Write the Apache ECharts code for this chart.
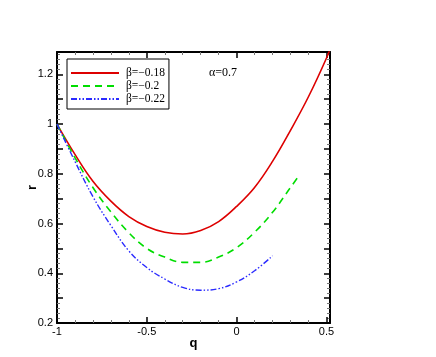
<!DOCTYPE html>
<html>
<head>
<meta charset="utf-8">
<script src="https://cdn.jsdelivr.net/npm/echarts@6/dist/echarts.min.js"></script>
<style>
  html, body { margin: 0; padding: 0; background: #fff; }
  #main { width: 436px; height: 357px; }
</style>
</head>
<body>
<div id="main"></div>
<script>
// curve values
var qRed   = [-1, -0.9, -0.8, -0.7, -0.6, -0.5, -0.4, -0.3, -0.2, -0.1, 0, 0.1, 0.2, 0.3, 0.4, 0.5, 0.54];
var rRed   = [1.0, 0.878, 0.77, 0.69, 0.628, 0.588, 0.565, 0.558, 0.572, 0.608, 0.669, 0.745, 0.85, 0.975, 1.11, 1.265, 1.34];
var qGreen = [-1, -0.9, -0.8, -0.7, -0.6, -0.5, -0.4, -0.3, -0.2, -0.1, 0, 0.1, 0.2, 0.3, 0.35];
var rGreen = [1.0, 0.865, 0.745, 0.647, 0.563, 0.5, 0.465, 0.444, 0.444, 0.465, 0.503, 0.565, 0.645, 0.745, 0.795];
var qBlue  = [-1, -0.9, -0.8, -0.7, -0.6, -0.5, -0.4, -0.3, -0.2, -0.1, 0, 0.1, 0.2];
var rBlue  = [1.0, 0.85, 0.708, 0.592, 0.49, 0.423, 0.377, 0.343, 0.332, 0.338, 0.365, 0.41, 0.47];
var names  = ['β=−0.18', 'β=−0.2', 'β=−0.22'];

function pairs(xs, ys) {
    var out = [];
    for (var i = 0; i < xs.length; i++) out.push([xs[i], ys[i]]);
    return out;
}

function near(v, step) {
    var k = Math.round(v / step);
    return Math.abs(v - k * step) < 1e-6;
}

var tickStyle = {
    axisLine: { show: true, onZero: false, lineStyle: { color: '#000', width: 2 } },
    axisTick: { show: true, inside: true, length: 6, lineStyle: { color: '#000', width: 1.5 } },
    minorTick: { show: true, splitNumber: 5, length: 3, lineStyle: { color: '#777', width: 1 } },
    splitLine: { show: false }
};

var myChart = echarts.init(document.getElementById('main'));
myChart.setOption({
    animation: false,
    grid: { left: 57, right: 106, top: 52, bottom: 34 },
    legend: {
        data: names,
        orient: 'vertical',
        left: 67,
        top: 59,
        itemWidth: 48,
        itemHeight: 10,
        itemGap: 1,
        padding: [8, 4, 4, 3],
        borderColor: '#000',
        borderWidth: 1,
        backgroundColor: '#fff',
        itemStyle: { opacity: 0 },
        textStyle: { fontFamily: 'Liberation Serif', fontSize: 11.5, lineHeight: 12, color: '#000', padding: [0, 0, 0, 2] }
    },
    graphic: [{
        type: 'text',
        left: 209,
        top: 67,
        style: { text: 'α=0.7', font: '12px "Liberation Serif"', fill: '#000' }
    }],
    xAxis: [
        Object.assign({
            type: 'value', min: -1, max: 0.52, interval: 0.5,
            name: 'q', nameLocation: 'middle', nameGap: 14, nameMoveOverlap: false,
            nameTextStyle: { fontFamily: 'Liberation Sans', fontWeight: 'bold', fontSize: 13, color: '#000' },
            axisLabel: {
                margin: 3, color: '#000', fontFamily: 'Liberation Sans', fontSize: 11,
                formatter: function (v) { return near(v, 0.5) ? String(+v.toFixed(1)) : ''; }
            }
        }, tickStyle),
        Object.assign({
            type: 'value', min: -1, max: 0.52, interval: 0.5, position: 'top',
            axisLabel: { show: false }
        }, tickStyle)
    ],
    yAxis: [
        Object.assign({
            type: 'value', min: 0.2, max: 1.29, interval: 0.1,
            name: 'r', nameLocation: 'middle', nameGap: 18, nameRotate: 90, nameMoveOverlap: false,
            nameTextStyle: { fontFamily: 'Liberation Sans', fontWeight: 'bold', fontSize: 13, color: '#000' },
            axisLabel: {
                margin: 4, color: '#000', fontFamily: 'Liberation Sans', fontSize: 11,
                formatter: function (v) { return near(v, 0.2) ? String(+v.toFixed(1)) : ''; }
            }
        }, tickStyle),
        Object.assign({
            type: 'value', min: 0.2, max: 1.29, interval: 0.1, position: 'right',
            axisLabel: { show: false }
        }, tickStyle)
    ],
    series: [
        {
            name: names[0], type: 'line', symbol: 'none', smooth: 0.4, clip: true,
            data: pairs(qRed, rRed),
            lineStyle: { color: '#dd0000', width: 1.6, type: 'solid' },
            itemStyle: { color: '#dd0000' }
        },
        {
            name: names[1], type: 'line', symbol: 'none', smooth: 0.4, clip: true,
            data: pairs(qGreen, rGreen),
            lineStyle: { color: '#00dd00', width: 1.6, type: [7, 5] },
            itemStyle: { color: '#00dd00' }
        },
        {
            name: names[2], type: 'line', symbol: 'none', smooth: 0.4, clip: true,
            data: pairs(qBlue, rBlue),
            lineStyle: { color: '#2a2aff', width: 1.4, type: [6, 2, 1.5, 2, 1.5, 2] },
            itemStyle: { color: '#2a2aff' }
        }
    ]
});
</script>
</body>
</html>
